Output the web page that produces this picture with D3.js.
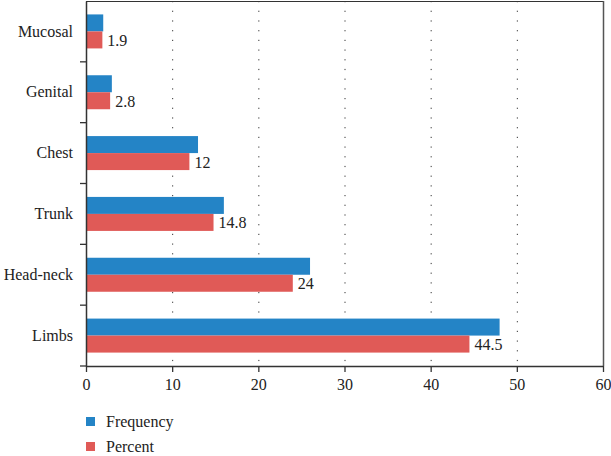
<!DOCTYPE html>
<html><head><meta charset="utf-8">
<script src="https://cdn.jsdelivr.net/npm/d3@7"></script>
<style>body{margin:0;background:#fff}svg{display:block}svg text{font-family:"Liberation Serif","DejaVu Serif",serif}</style>
</head><body>
<svg id="c" width="611" height="456"></svg>
<script>
const categories = ["Mucosal","Genital","Chest","Trunk","Head-neck","Limbs"];
const frequency = [2, 3, 13, 16, 26, 48];
const percent = [1.9, 2.8, 12, 14.8, 24, 44.5];
const percentLabels = ["1.9","2.8","12","14.8","24","44.5"];
const xTicks = [0,10,20,30,40,50,60];
const seriesNames = ["Frequency","Percent"];
const colors = ["#2484c6","#e05a57"];

const svg = d3.select("#c");
const fs = 16;
const m = {left:86, right:603, top:1, bottom:366};
const x = d3.scaleLinear().domain([0,60]).range([m.left, m.right]);
const y = d3.scaleBand().domain(categories).range([m.top, m.bottom]).paddingInner(0).paddingOuter(0);
const bh = 17;

svg.append("g").selectAll("line").data(xTicks.filter(t=>t>0&&t<60)).join("line")
  .attr("x1",d=>x(d)+0.5).attr("x2",d=>x(d)+0.5).attr("y1",m.top).attr("y2",m.bottom)
  .attr("stroke","#333").attr("stroke-width",1).attr("stroke-dasharray","1.2,8.5");

const g = svg.append("g");
categories.forEach((c,i)=>{
  const y0 = y(c) + y.bandwidth()/2 - bh;
  g.append("rect").attr("x",x(0)).attr("y",y0).attr("width",x(frequency[i])-x(0)).attr("height",bh).attr("fill",colors[0]);
  g.append("rect").attr("x",x(0)).attr("y",y0+bh).attr("width",x(percent[i])-x(0)).attr("height",bh).attr("fill",colors[1]);
  g.append("text").attr("x",x(percent[i])+5).attr("y",y0+bh+bh/2+6).text(percentLabels[i])
   .style("font-size",fs+"px").attr("fill","#222");
});

svg.append("line").attr("x1",m.left).attr("x2",m.right).attr("y1",m.top+0.5).attr("y2",m.top+0.5).attr("stroke","#333");
svg.append("line").attr("x1",m.right+0.5).attr("x2",m.right+0.5).attr("y1",m.top).attr("y2",m.bottom).attr("stroke","#555").attr("stroke-width",1.5);

const xa = svg.append("g").attr("transform",`translate(0,${m.bottom})`)
  .call(d3.axisBottom(x).tickValues(xTicks).tickSize(6).tickSizeOuter(0).tickFormat(d3.format("d")));
xa.attr("font-family",null);
xa.select(".domain").attr("stroke","#333").attr("stroke-width",1.5);
xa.selectAll(".tick line").attr("stroke","#333").attr("stroke-width",1.3);
xa.selectAll("text").style("font-size",fs+"px").attr("fill","#222").attr("dy","0.95em");

const ya = svg.append("g").attr("transform",`translate(${m.left},0)`)
  .call(d3.axisLeft(y).tickSize(0).tickSizeOuter(0));
ya.attr("font-family",null);
ya.select(".domain").attr("stroke","#333").attr("stroke-width",1.5);
ya.selectAll("text").style("font-size",fs+"px").attr("fill","#222").attr("x",-13);
svg.append("g").selectAll("line").data(d3.range(1,categories.length+1)).join("line")
  .attr("x1",m.left-6).attr("x2",m.left).attr("y1",i=>m.top+i*y.step()).attr("y2",i=>m.top+i*y.step())
  .attr("stroke","#333").attr("stroke-width",1.3);

const lg = svg.append("g");
seriesNames.forEach((s,i)=>{
  const ly = 422 + i*25;
  lg.append("rect").attr("x",86).attr("y",ly-5).attr("width",9).attr("height",9).attr("fill",colors[i]);
  lg.append("text").attr("x",106).attr("y",ly+5).text(s).style("font-size",fs+"px").attr("fill","#222");
});
</script>
</body></html>
